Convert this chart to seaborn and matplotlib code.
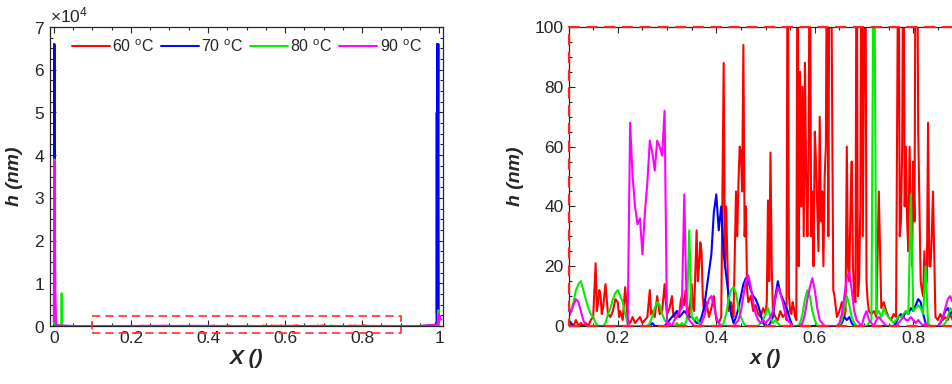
import numpy as np
import pandas as pd
import matplotlib
matplotlib.use("Agg")
import matplotlib.pyplot as plt
import seaborn as sns
from matplotlib.patches import Rectangle
from matplotlib.ticker import AutoMinorLocator, MultipleLocator

sns.set_theme(style="ticks")
plt.rcParams['font.family'] = ['Liberation Sans', 'DejaVu Sans']
plt.rcParams['mathtext.fontset'] = 'custom'
plt.rcParams['mathtext.rm'] = 'Liberation Sans'

# temperatures and colours
temps = ['60 $^{\\mathrm{o}}$C', '70 $^{\\mathrm{o}}$C', '80 $^{\\mathrm{o}}$C', '90 $^{\\mathrm{o}}$C']
colors = ['#ff0000', '#0000ff', '#00ee00', '#ff00ff']

# sampling grid of the middle part (0.1 .. 0.9, step 0.005)
x_mid = np.round(np.arange(0.1, 0.9001, 0.005), 4)

# h (nm) in the middle part
h60_mid = [0, 1, 0, 2, 0, 1, 0, 1, 0, 2,
           3, 21, 8, 10, 6, 14, 4, 3, 5, 9,
           8, 5, 2, 13, 2, 1, 3, 1, 2, 3,
           1, 2, 3, 12, 5, 3, 10, 4, 5, 14,
           4, 6, 10, 3, 5, 4, 10, 7, 8, 3,
           14, 5, 32, 20, 25, 5, 8, 3, 6, 10,
           2, 1, 3, 88, 40, 5, 8, 3, 45, 48,
           58, 94, 40, 8, 10, 5, 7, 4, 3, 6,
           4, 42, 58, 5, 3, 2, 5, 3, 4, 150,
           5, 8, 3, 150, 85, 80, 88, 30, 150, 45,
           65, 40, 70, 45, 50, 150, 150, 80, 10, 3,
           5, 8, 3, 60, 15, 55, 10, 150, 15, 150,
           90, 15, 5, 4, 5, 3, 45, 6, 8, 5,
           3, 2, 4, 3, 150, 35, 150, 60, 25, 40,
           55, 150, 65, 15, 10, 13, 68, 20, 45, 3,
           2, 4, 2, 3, 2, 4, 2, 3, 1, 2,
           1]
# extra red readings between grid points (the 60 C trace is very spiky)
x60_extra = [0.1575, 0.1625, 0.1675, 0.1725, 0.2025, 0.2675, 0.2975, 0.3125, 0.3275,
             0.3375, 0.3525, 0.3625, 0.3675, 0.3725, 0.4175, 0.4425, 0.4475, 0.4525,
             0.4575, 0.4625, 0.5025, 0.5075, 0.5125, 0.5425, 0.5475, 0.5525, 0.5575,
             0.5625, 0.5675, 0.5725, 0.5775, 0.5825, 0.5875, 0.5925, 0.5975, 0.6025,
             0.6075, 0.6125, 0.6175, 0.6225, 0.6275, 0.6325, 0.6375, 0.6625, 0.6675,
             0.6725, 0.6775, 0.6825, 0.6875, 0.6925, 0.6975, 0.7025, 0.7075, 0.7725,
             0.7775, 0.7825, 0.7875, 0.7925, 0.7975, 0.8025, 0.8075, 0.8125, 0.8175,
             0.8225, 0.8275, 0.8325, 0.8375]
h60_extra = [5, 12, 4, 10, 3, 4, 8, 4, 8,
             12, 6, 15, 28, 10, 20, 30, 60, 45,
             30, 12, 8, 15, 20, 2, 10, 4, 6,
             2, 20, 40, 30, 50, 60, 30, 20, 55,
             25, 35, 20, 60, 30, 150, 12, 5, 20,
             40, 20, 8, 10, 40, 30, 150, 8, 30,
             60, 40, 35, 60, 20, 35, 150, 40, 12,
             25, 15, 20, 30]
h70_mid = [2, 1, 0, 0, 0, 0, 0, 0, 0, 0,
           0, 0, 0, 0, 0, 0, 0, 0, 0, 0,
           0, 0, 0, 0, 0, 0, 0, 0, 0, 0,
           0, 0, 0, 0, 1, 0, 0, 0, 0, 0,
           1, 2, 3, 4, 5, 3, 4, 5, 4, 3,
           3, 2, 1, 1, 3, 6, 12, 18, 24, 38,
           44, 32, 40, 24, 17, 10, 4, 1, 3, 6,
           10, 14, 16, 15, 12, 10, 9, 7, 4, 1,
           0, 0, 1, 3, 10, 15, 11, 9, 7, 5,
           2, 0, 0, 0, 0, 0, 0, 0, 0, 0,
           0, 0, 0, 0, 0, 0, 0, 0, 0, 0,
           0, 1, 3, 2, 3, 1, 0, 0, 0, 0,
           0, 0, 0, 0, 0, 0, 0, 0, 0, 0,
           0, 0, 0, 1, 3, 4, 3, 5, 4, 6,
           5, 7, 9, 8, 4, 1, 0, 0, 0, 0,
           0, 1, 3, 5, 6, 4, 5, 3, 1, 0,
           0]
h80_mid = [3, 5, 8, 12, 14, 15, 12, 9, 6, 4,
           3, 1, 0, 0, 0, 1, 4, 6, 9, 11,
           12, 10, 8, 4, 1, 0, 0, 0, 0, 0,
           0, 0, 0, 1, 3, 6, 8, 7, 4, 2,
           1, 0, 0, 0, 1, 0, 1, 0, 2, 32,
           3, 2, 3, 1, 0, 0, 0, 0, 0, 0,
           0, 0, 0, 1, 4, 9, 12, 13, 11, 6,
           3, 1, 0, 0, 0, 0, 0, 0, 1, 2,
           4, 6, 3, 1, 2, 1, 0, 0, 0, 0,
           0, 0, 0, 0, 1, 4, 9, 12, 10, 5,
           2, 0, 0, 0, 0, 0, 0, 0, 0, 0,
           0, 2, 6, 10, 7, 3, 1, 0, 0, 0,
           0, 0, 1, 2, 150, 4, 5, 3, 6, 4,
           3, 2, 1, 2, 3, 3, 4, 5, 4, 44,
           5, 6, 7, 6, 4, 20, 1, 0, 0, 0,
           0, 0, 0, 1, 3, 6, 5, 3, 1, 0,
           0]
h90_mid = [3, 5, 7, 9, 8, 5, 2, 0, 0, 0,
           0, 0, 0, 0, 0, 0, 0, 0, 0, 0,
           0, 0, 0, 0, 0, 68, 50, 40, 34, 36,
           24, 38, 48, 62, 58, 52, 62, 60, 57, 72,
           0, 1, 0, 2, 3, 5, 6, 44, 4, 2,
           1, 0, 0, 0, 1, 3, 6, 9, 10, 7,
           3, 1, 0, 0, 0, 0, 0, 0, 1, 2,
           5, 10, 15, 17, 13, 8, 4, 2, 1, 2,
           1, 2, 3, 5, 9, 13, 11, 8, 4, 2,
           1, 0, 0, 0, 0, 1, 4, 9, 13, 16,
           12, 6, 2, 1, 0, 0, 0, 0, 0, 0,
           1, 4, 10, 16, 18, 12, 5, 2, 1, 0,
           3, 5, 2, 1, 0, 2, 3, 2, 1, 0,
           0, 0, 0, 0, 1, 2, 3, 2, 2, 3,
           2, 1, 2, 1, 0, 1, 0, 0, 0, 0,
           0, 1, 3, 6, 9, 10, 8, 5, 2, 1,
           0]

# the two ends of the film (only seen in the full view)
x60_lo = [0.0, 0.05]
h60_lo = [0, 0]
x60_hi = [0.95, 1.0]
h60_hi = [0, 0]

x70_lo = [0.0, 0.0005, 0.001, 0.0015, 0.002, 0.003, 0.005, 0.05]
h70_lo = [0, 66000, 30000, 66000, 2000, 500, 100, 0]
x70_hi = [0.95, 0.99, 0.993, 0.9935, 0.994, 0.9945, 0.995, 0.9955, 0.996, 0.9965, 0.997, 0.998, 0.999, 1.0]
h70_hi = [0, 300, 1000, 50000, 3000, 66000, 2000, 66000, 5000, 66000, 40000, 66000, 1000, 0]

x80_lo = [0.0, 0.0005, 0.001, 0.002, 0.003, 0.004, 0.019, 0.02, 0.021, 0.05]
h80_lo = [2000, 500, 39000, 39000, 3000, 200, 0, 7700, 0, 0]
x80_hi = [0.95, 0.995, 0.997, 0.998, 0.999, 1.0]
h80_hi = [0, 200, 1500, 3700, 1000, 0]

x90_lo = [0.0, 0.0005, 0.001, 0.0015, 0.002, 0.003, 0.004, 0.006, 0.05]
h90_lo = [1000, 38500, 5000, 38500, 30000, 20000, 8000, 200, 0]
x90_hi = [0.95, 0.996, 0.998, 0.999, 1.0, 1.002, 1.004, 1.006]
h90_hi = [0, 300, 1000, 2800, 1800, 2200, 1500, 1500]

parts = [(x60_lo, h60_lo, h60_mid, x60_hi, h60_hi, x60_extra, h60_extra),
         (x70_lo, h70_lo, h70_mid, x70_hi, h70_hi, [], []),
         (x80_lo, h80_lo, h80_mid, x80_hi, h80_hi, [], []),
         (x90_lo, h90_lo, h90_mid, x90_hi, h90_hi, [], [])]

frames = []
for t, (xl, hl, hm, xh, hh, xe, he) in zip(temps, parts):
    d = pd.DataFrame({'x': list(xl) + list(x_mid) + list(xh) + list(xe),
                      'h': list(hl) + list(hm) + list(hh) + list(he),
                      'T': t})
    frames.append(d.sort_values('x'))
df = pd.concat(frames, ignore_index=True)
palette = dict(zip(temps, colors))

fig = plt.figure(figsize=(9.53, 3.84), dpi=100)
ax1 = fig.add_axes([0.0525, 0.151, 0.4124, 0.7786])
ax2 = fig.add_axes([0.5966, 0.151, 0.4134, 0.7786])

# full view
sns.lineplot(data=df, x='x', y='h', hue='T', palette=palette, estimator=None,
             sort=False, lw=1.4, legend=False, ax=ax1)
ax1.set_xlim(-0.01, 1.01)
ax1.set_ylim(0, 70000)
ax1.yaxis.set_major_locator(MultipleLocator(10000))
ax1.set_xticks([0, 0.2, 0.4, 0.6, 0.8, 1.0])
ax1.set_xticklabels(['0', '0.2', '0.4', '0.6', '0.8', '1'])
ax1.ticklabel_format(axis='y', style='sci', scilimits=(0, 0), useMathText=True)
ax1.add_patch(Rectangle((0.1, -1600), 0.8, 3900, fill=False, edgecolor='#ff3030',
                        lw=1.2, ls=(0, (5, 3)), clip_on=False, zorder=5))
ax1.legend(ax1.lines[:4], temps, ncol=4, loc='upper center', bbox_to_anchor=(0.5, 1.0),
           frameon=False, fontsize=11.5, handlelength=2.4, handletextpad=0.15,
           columnspacing=0.4, borderaxespad=0.3)
ax1.set_xlabel('X ()', fontsize=15, fontweight='bold', style='italic', labelpad=2)
ax1.set_ylabel('h (nm)', fontsize=14, fontweight='bold', style='italic', labelpad=8)

# zoomed view
sns.lineplot(data=df, x='x', y='h', hue='T', palette=palette, estimator=None,
             sort=False, lw=1.5, legend=False, ax=ax2)
ax2.set_xlim(0.1, 0.9)
ax2.set_ylim(0, 100)
ax2.xaxis.set_major_locator(MultipleLocator(0.2))
ax2.yaxis.set_major_locator(MultipleLocator(20))
ax2.add_patch(Rectangle((0.1, 0), 0.8, 100, fill=False, edgecolor='#ff2020',
                        lw=1.6, ls=(0, (5, 3)), clip_on=False, zorder=5))
ax2.set_xlabel('x ()', fontsize=15, fontweight='bold', style='italic', labelpad=2)
ax2.set_ylabel('h (nm)', fontsize=14, fontweight='bold', style='italic', labelpad=8)

for ax in (ax1, ax2):
    ax.xaxis.set_minor_locator(AutoMinorLocator(4))
    ax.yaxis.set_minor_locator(AutoMinorLocator(4))
    ax.tick_params(which='both', direction='in', top=True, right=True,
                   colors='#262626', labelsize=12.5, width=0.8)
    ax.tick_params(which='major', length=4)
    ax.tick_params(which='minor', length=2.5)
    for s in ax.spines.values():
        s.set_color('#262626')
        s.set_linewidth(0.9)
ax1.yaxis.get_offset_text().set_fontsize(12.5)

fig.savefig('out.png', dpi=100)
